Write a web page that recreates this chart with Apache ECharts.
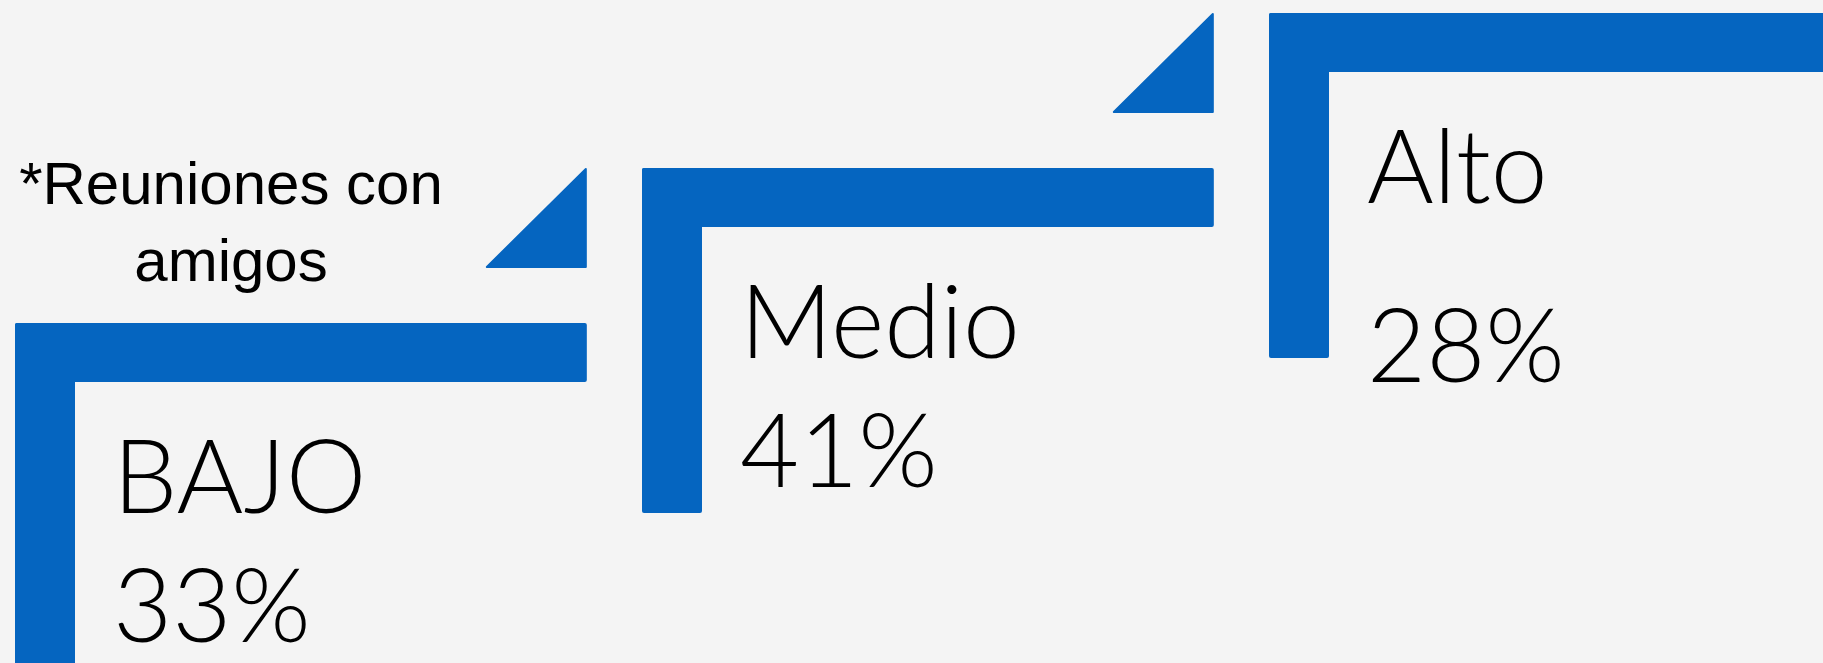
<!DOCTYPE html>
<html>
<head>
<meta charset="utf-8">
<script src="https://cdn.jsdelivr.net/npm/echarts@6/dist/echarts.min.js"></script>
<style>
  html, body { margin: 0; padding: 0; background: #f4f4f4; }
  #chart { width: 1823px; height: 663px; }
</style>
</head>
<body>
<div id="chart"></div>
<script>
// niveles de reuniones con amigos
const levels = ['BAJO', 'Medio', 'Alto'];
const shares = [33, 41, 28];
const steps = [0, 1, 2];
const note = '*Reuniones con\namigos';

const blue = '#0565c0';
const chart = echarts.init(document.getElementById('chart'));

function renderStep(params, api) {
  const i = params.dataIndex;
  const pos = api.coord([api.value(0), api.value(1)]);
  const band = api.size([1, 0])[0];
  const left = pos[0];
  const top = pos[1];
  const barW = band * 0.912;
  const right = left + barW;
  const thick = 59;
  const stemW = 60;
  const stemLen = 345;
  // the last percentage sits a bit lower in the original
  const pctY = i === 2 ? top + 336 : top + 286;
  return {
    type: 'group',
    children: [
      { type: 'rect', shape: { x: left, y: top, width: barW, height: thick, r: 2 }, style: { fill: blue } },
      { type: 'rect', shape: { x: left, y: top, width: stemW, height: stemLen, r: 2 }, style: { fill: blue } },
      {
        type: 'polygon',
        shape: { points: [[right - 1, top - 154], [right - 100, top - 56], [right - 1, top - 56]] },
        style: { fill: blue, stroke: blue, lineWidth: 2, lineJoin: 'round' }
      },
      {
        type: 'text',
        style: {
          text: levels[i], x: left + 98, y: top + 157, fill: '#000',
          font: '300 102px Lato', verticalAlign: 'middle'
        }
      },
      {
        type: 'text',
        style: {
          text: api.value(2) + '%', x: left + 98, y: pctY, fill: '#000',
          font: '300 102px Lato', verticalAlign: 'middle'
        }
      }
    ]
  };
}

const option = {
  backgroundColor: '#f4f4f4',
  animation: false,
  grid: { left: 15, top: 13, right: 554, height: 310 },
  xAxis: { type: 'value', min: 0, max: 2, show: false },
  yAxis: { type: 'value', min: 0, max: 2, show: false },
  graphic: [{
    type: 'text',
    x: 231,
    y: 149,
    style: {
      text: note, align: 'center', verticalAlign: 'top',
      font: '60px "Liberation Sans"', lineHeight: 77, fill: '#000'
    }
  }],
  series: [{
    type: 'custom',
    silent: true,
    clip: false,
    renderItem: renderStep,
    data: steps.map((s, i) => [s, s, shares[i]])
  }]
};
chart.setOption(option);
</script>
</body>
</html>
